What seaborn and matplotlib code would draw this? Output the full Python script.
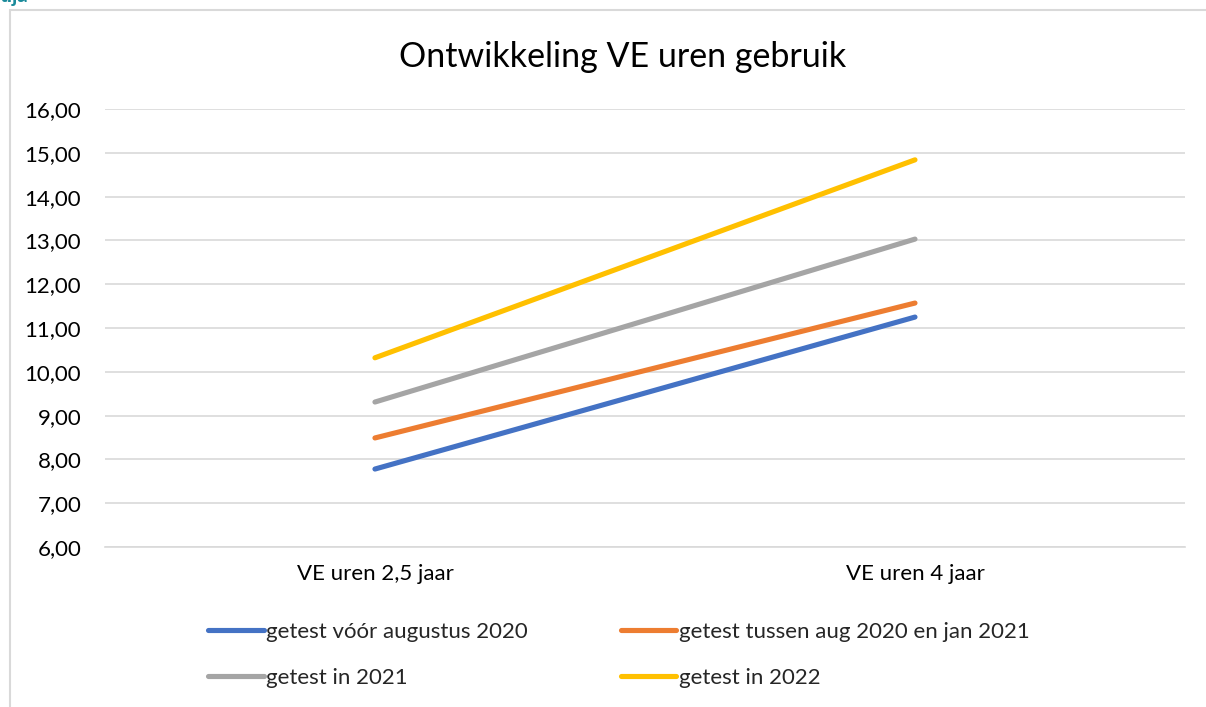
import matplotlib
matplotlib.use("Agg")
import matplotlib.pyplot as plt
import matplotlib.patches as patches
from matplotlib.ticker import FuncFormatter
import seaborn as sns
import pandas as pd

# Data
categories = ["VE uren 2,5 jaar", "VE uren 4 jaar"]
series_names = [
    "getest vóór augustus 2020",
    "getest tussen aug 2020 en jan 2021",
    "getest in 2021",
    "getest in 2022",
]
voor_aug_2020 = [7.78, 11.25]
aug2020_jan2021 = [8.49, 11.57]
in_2021 = [9.31, 13.03]
in_2022 = [10.32, 14.84]
colors = ["#4472C4", "#ED7D31", "#A5A5A5", "#FFC000"]

rows = []
for name, vals in zip(series_names, [voor_aug_2020, aug2020_jan2021, in_2021, in_2022]):
    for i, v in enumerate(vals):
        rows.append({"x": i, "cat": categories[i], "waarde": v, "groep": name})
df = pd.DataFrame(rows)

sns.set_style("white")
plt.rcParams["font.family"] = ["Lato", "DejaVu Sans"]

fig = plt.figure(figsize=(12.06, 7.07), dpi=100)
ax = fig.add_axes([0.087, 0.2263, 0.8956, 0.6195])

sns.lineplot(data=df, x="x", y="waarde", hue="groep", palette=colors,
             hue_order=series_names, linewidth=3.7, ax=ax, legend=False,
             solid_capstyle="round")

ax.set_xlim(-0.5, 1.5)
ax.set_ylim(6, 16)
ax.set_yticks(range(6, 17))
ax.yaxis.set_major_formatter(FuncFormatter(lambda v, p: f"{v:.2f}".replace(".", ",")))
ax.set_xticks([0, 1])
ax.set_xticklabels(categories)
ax.tick_params(axis="both", length=0, labelsize=16, colors="#000000")
ax.tick_params(axis="x", pad=12)
ax.tick_params(axis="y", pad=17)
ax.grid(axis="y", color="#d9d9d9", linewidth=1.2)
ax.set_axisbelow(True)
for s in ["top", "right", "left"]:
    ax.spines[s].set_visible(False)
ax.spines["bottom"].set_color("#d9d9d9")
ax.spines["bottom"].set_linewidth(1.2)
ax.set_xlabel("")
ax.set_ylabel("")

fig.text(0.516, 1 - 57 / 707, "Ontwikkeling VE uren gebruik", ha="center", va="center",
         fontsize=24.5, color="#000000")

# legend
handles = [plt.Line2D([], [], color=c, linewidth=3.7, solid_capstyle="round") for c in colors]
order = [0, 2, 1, 3]
fig.legend([handles[i] for i in order], [series_names[i] for i in order], ncol=2,
           loc="center", bbox_to_anchor=(0.513, 1 - 655 / 707), frameon=False,
           fontsize=16, handlelength=2.5, handletextpad=0.1, columnspacing=4.2,
           labelspacing=1.15)

# chart border and cut-off header fragment
fig.patches.append(patches.Rectangle((10 / 1206, -0.01), 1.2, 1 - 10 / 707 + 0.01,
                                     transform=fig.transFigure, fill=False,
                                     edgecolor="#d9d9d9", linewidth=1.5))
fig.text(0.0, 1 - 6 / 707, "tija", ha="left", va="bottom", fontsize=15,
         fontweight="bold", color="#1a8a9a")

fig.savefig("out.png", dpi=100)
